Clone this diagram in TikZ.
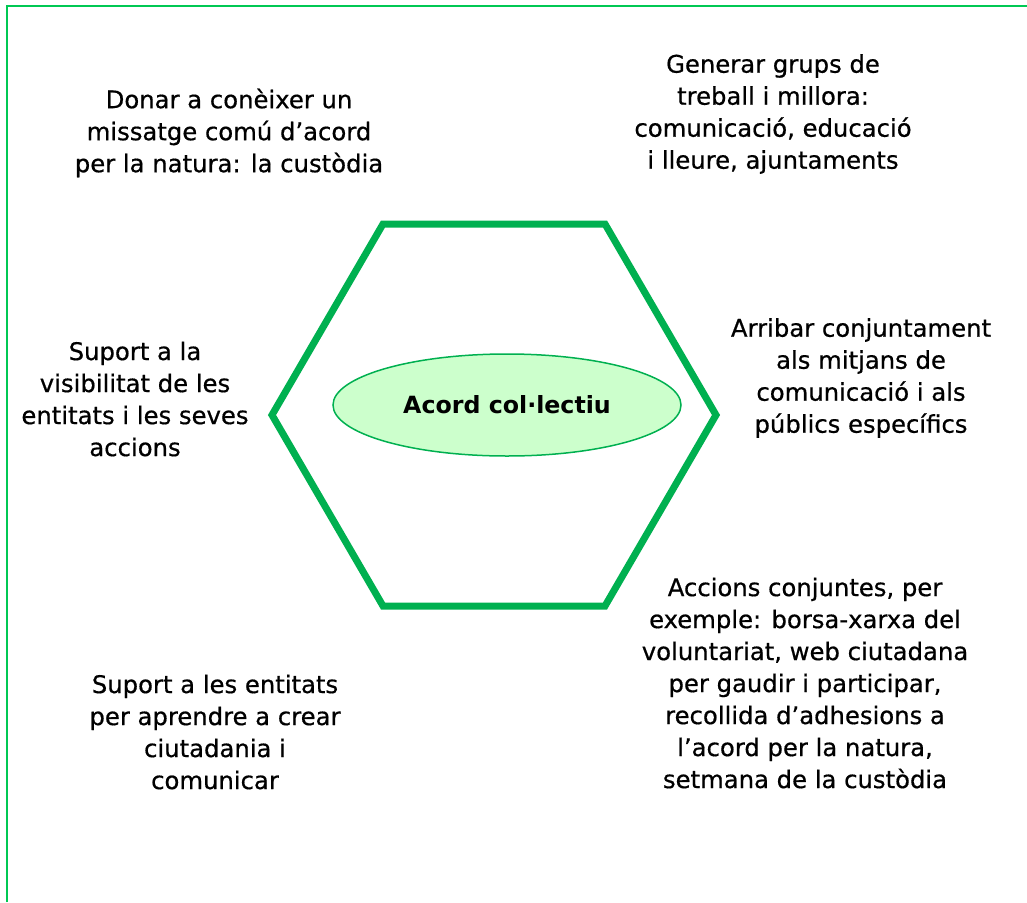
\documentclass[tikz,border=0pt]{standalone}
\usepackage{fontspec}
\setmainfont{DejaVu Sans}
\usetikzlibrary{shapes.geometric}
\definecolor{framegreen}{RGB}{0,200,83}
\definecolor{hexgreen}{RGB}{0,176,80}
\definecolor{ellfill}{RGB}{204,255,204}
\tikzset{
  lbl/.style={align=center, inner sep=0pt, font=\addfontfeature{FakeBold=0.6}\fontsize{24.3}{32}\selectfont, text=black},
  hexline/.style={draw=hexgreen, line width=7pt, line join=miter},
  core/.style={ellipse, draw=hexgreen, line width=1.5pt, fill=ellfill, minimum width=348pt, minimum height=102pt, inner sep=0pt, font=\bfseries\fontsize{23.7}{28}\selectfont}
}
\begin{document}
\begin{tikzpicture}[x=1pt,y=-1pt]
\useasboundingbox (0,0) rectangle (1027,902);
\fill[white] (0,0) rectangle (1027,902);
\draw[framegreen, line width=2pt] (7,902) -- (7,6) -- (1027,6);
\coordinate (h1) at (383,224);
\coordinate (h2) at (605,224);
\coordinate (h3) at (716,415);
\coordinate (h4) at (605,606);
\coordinate (h5) at (383,606);
\coordinate (h6) at (272,415);
\draw[hexline] (h1) -- (h2) -- (h3) -- (h4) -- (h5) -- (h6) -- cycle;
\node[core] (c) at (507,405) {Acord col·lectiu};
\node[lbl] (t1) at (229,133) {Donar a conèixer un\\missatge comú d’acord\\per la natura: la custòdia};
\node[lbl] (t2) at (773,114) {Generar grups de\\treball i millora:\\comunicació, educació\\i lleure, ajuntaments};
\node[lbl] (t3) at (861,378) {Arribar conjuntament\\als mitjans de\\comunicació i als\\públics específics};
\node[lbl] (t4) at (135,399) {Suport a la\\visibilitat de les\\entitats i les seves\\accions};
\node[lbl] (t5) at (805,683) {Accions conjuntes, per\\exemple: borsa-xarxa del\\voluntariat, web ciutadana\\per gaudir i participar,\\recollida d’adhesions a\\l’acord per la natura,\\setmana de la custòdia};
\node[lbl] (t6) at (215,732) {Suport a les entitats\\per aprendre a crear\\ciutadania i\\comunicar};
\end{tikzpicture}
\end{document}
